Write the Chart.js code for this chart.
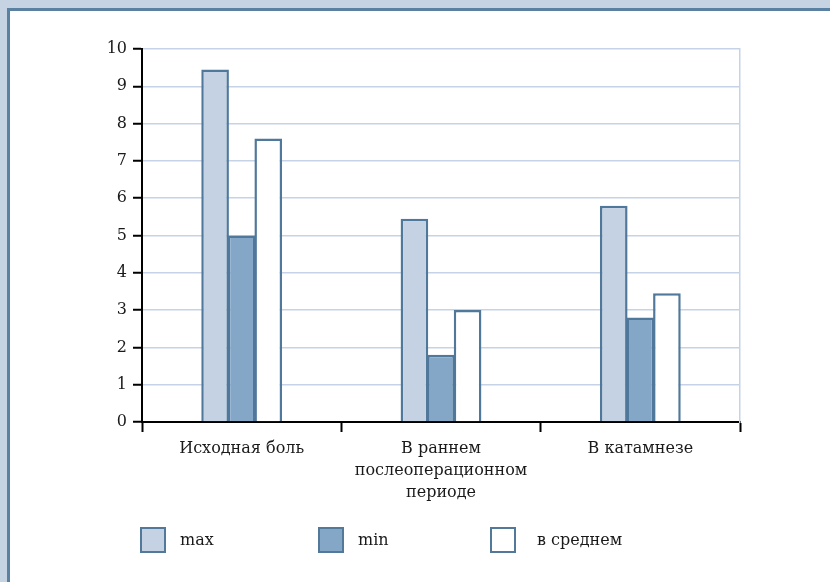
<!DOCTYPE html>
<html>
<head>
<meta charset="utf-8">
<script src="https://cdn.jsdelivr.net/npm/chart.js@4.4.1/dist/chart.umd.min.js"></script>
<style>
  body { margin: 0; width: 830px; height: 582px; overflow: hidden; position: relative;
         background: #c6d3e3; font-family: 'DejaVu Serif', serif; }
  #panel { position: absolute; left: 7px; top: 8px; width: 840px; height: 590px; background: #fff;
           border-left: 3px solid #5a81a1; border-top: 3px solid #5a81a1; }
  #wrap { position: absolute; left: 0; top: 0; width: 830px; height: 582px; }
  .box { position: absolute; top: 527px; width: 22px; height: 22px; border: 2.5px solid #52799a; }
  .txt { position: absolute; top: 529px; font-size: 16px; line-height: 22px; color: #1a1a1a; }
</style>
</head>
<body>
<div id="panel"></div>
<div id="wrap"><canvas id="chart" width="830" height="582"></canvas></div>
<div id="legend"></div>
<script>
// pain scores per period
const categories = ['Исходная боль', ['В раннем', 'послеоперационном', 'периоде'], 'В катамнезе'];
const seriesNames = ['max', 'min', 'в среднем'];
const maxValues = [9.45, 5.45, 5.8];
const minValues = [5.0, 1.8, 2.8];
const avgValues = [7.6, 3.0, 3.45];
const yTicks = [0, 1, 2, 3, 4, 5, 6, 7, 8, 9, 10];

const fills = ['#c5d2e3', '#84a7c8', '#ffffff'];
const edge = '#50789a';
const gridBlue = '#c6d3e7';
const font = { family: "'DejaVu Serif', serif", size: 16 };

const series = [maxValues, minValues, avgValues];

// legend laid out by hand, items are spaced unevenly
const legendPos = [[140, 180], [318, 358], [490, 537]];
const legend = document.getElementById('legend');
seriesNames.forEach((name, i) => {
  const b = document.createElement('div');
  b.className = 'box';
  b.style.left = legendPos[i][0] + 'px';
  b.style.background = fills[i];
  const t = document.createElement('div');
  t.className = 'txt';
  t.style.left = legendPos[i][1] + 'px';
  t.textContent = name;
  legend.appendChild(b);
  legend.appendChild(t);
});

const ctx = document.getElementById('chart').getContext('2d');
new Chart(ctx, {
  type: 'bar',
  data: {
    labels: categories,
    datasets: series.map((vals, i) => ({
      label: seriesNames[i],
      data: vals,
      backgroundColor: fills[i],
      borderColor: edge,
      borderWidth: 2.5,
      barPercentage: 1.04,
      categoryPercentage: 0.4,
    })),
  },
  options: {
    responsive: false,
    animation: false,
    layout: { padding: { top: 49, right: 90, left: 0, bottom: 0 } },
    plugins: { legend: { display: false }, tooltip: { enabled: false } },
    scales: {
      x: {
        grid: { offset: true, drawOnChartArea: false, drawTicks: true, tickLength: 10, tickColor: '#000', tickWidth: 2 },
        border: { color: '#000', width: 2 },
        ticks: { font: { ...font, lineHeight: 1.38 }, color: '#1a1a1a', padding: 6, maxRotation: 0, autoSkip: false },
        afterFit: (s) => { s.height = 160; },
      },
      y: {
        min: 0,
        max: 10,
        afterBuildTicks: (s) => { s.ticks = yTicks.map((v) => ({ value: v })); },
        grid: { color: gridBlue, lineWidth: 1.5, tickColor: '#000', tickLength: 9, tickWidth: 2 },
        border: { color: '#000', width: 2 },
        ticks: { font, color: '#1a1a1a', padding: 6 },
        afterFit: (s) => { s.width = 142; },
      },
      y2: {
        position: 'right',
        grid: { drawOnChartArea: false, drawTicks: false },
        border: { color: gridBlue, width: 1.5 },
        ticks: { display: false },
        afterFit: (s) => { s.width = 0; },
      },
    },
  },
});
</script>
</body>
</html>
